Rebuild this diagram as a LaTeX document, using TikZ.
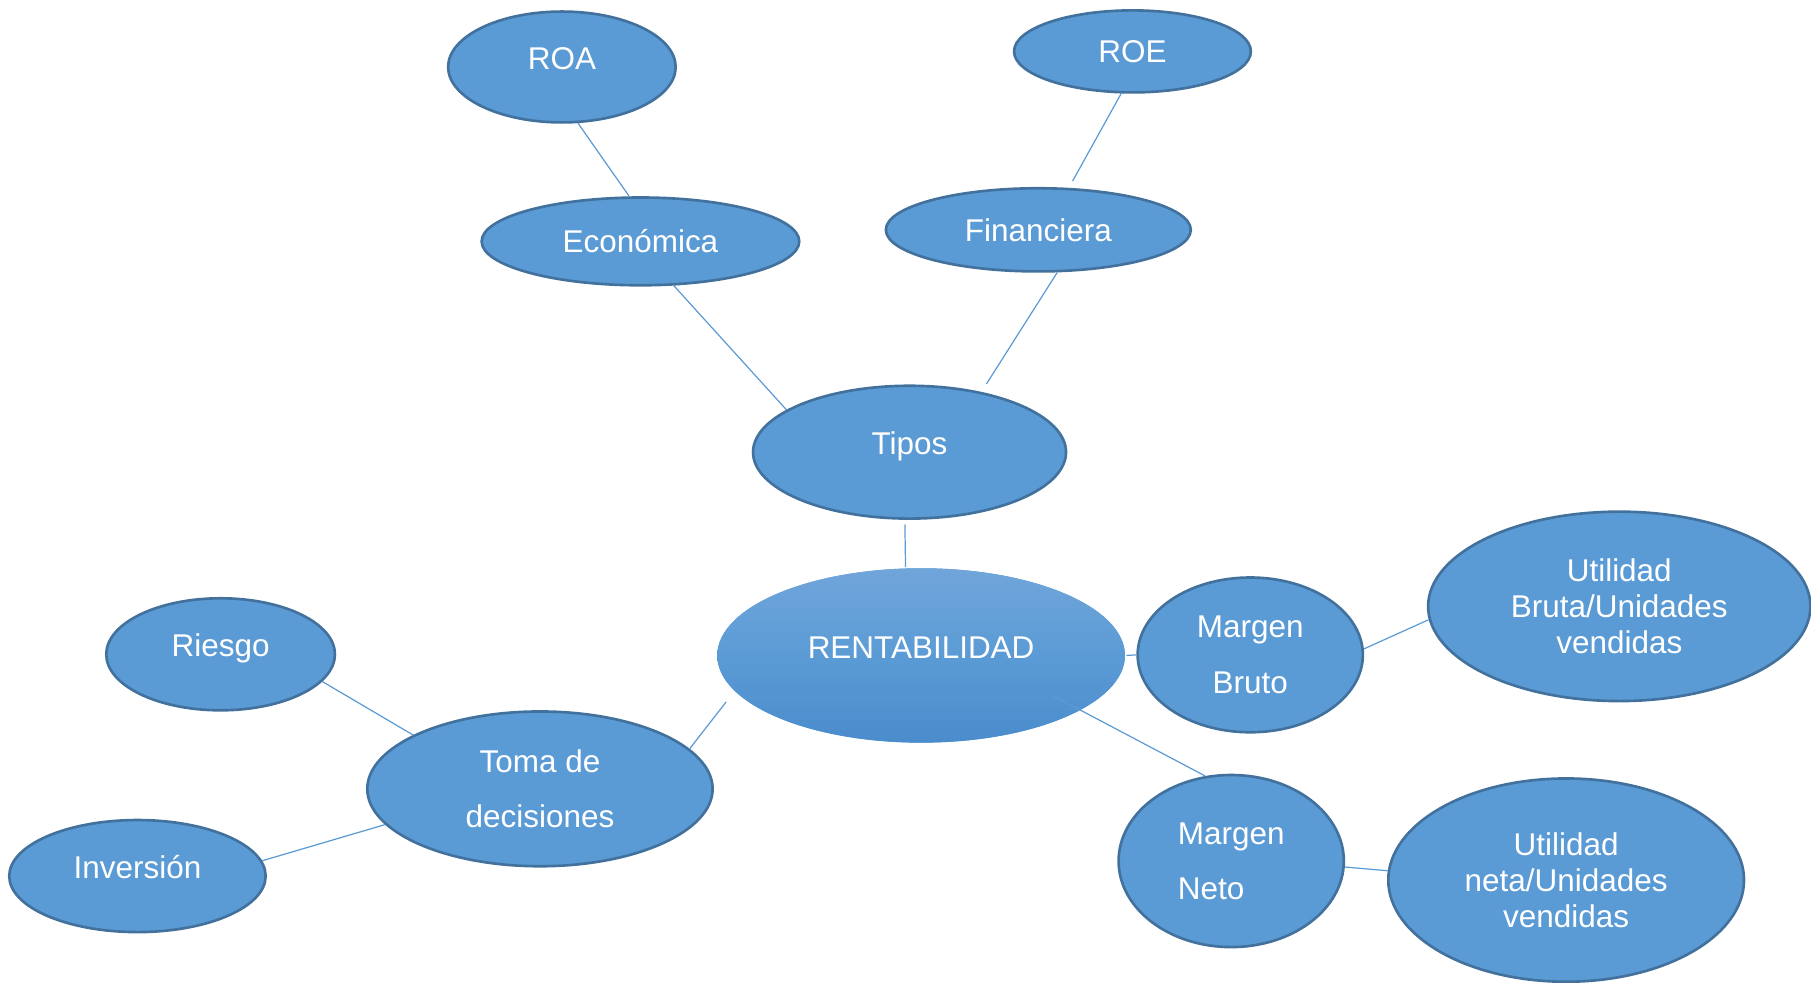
\documentclass[tikz,border=0pt]{standalone}
\usepackage{fontspec}
\setmainfont{Liberation Sans}
\usepackage{tikz}
\usepackage{xcolor}
\usetikzlibrary{shapes.geometric}
\definecolor{nodeblue}{HTML}{5B9BD5}
\definecolor{nodeedge}{HTML}{41719C}
\definecolor{rentop}{HTML}{70A5DA}
\definecolor{rentbot}{HTML}{4A8CCC}

\begin{document}
\begin{tikzpicture}[x=0.2mm,y=-0.2mm]
%\draw[help lines] (0,0) grid (1568,851);
\tikzset{
vertex/.style 	= {ellipse, draw=nodeedge, line width=1.3pt, fill=nodeblue,
		   text=white, inner sep=0pt, font=\fontsize{15.5}{18}\selectfont},
oneline/.style 	= {text height=3.9mm, text depth=0mm},
raised/.style 	= {text height=3.9mm, text depth=3mm},
twoline/.style 	= {font=\fontsize{15.5}{27.3}\selectfont},
threeline/.style = {align=center, font=\fontsize{15.5}{17.9}\selectfont},
link/.style 	= {draw=nodeblue, line width=0.6pt}
}
\useasboundingbox (0,0) rectangle (1568,851);

\node[vertex, raised, draw=none, top color=rentop, bottom color=rentbot,
      middle color=nodeblue, minimum width=70.6mm, minimum height=30.2mm]
      (rent) at (797.5,567.5) {RENTABILIDAD};

\node[vertex, raised, minimum width=54.2mm, minimum height=23mm] (tipos) at (787.5,391.5) {Tipos};
\node[vertex, oneline, minimum width=55mm, minimum height=15.2mm] (economica) at (554.5,209) {Económica};
\node[vertex, oneline, minimum width=52.8mm, minimum height=14.4mm] (financiera) at (899,199) {Financiera};
\node[vertex, raised, minimum width=39.4mm, minimum height=19.2mm] (roa) at (486.5,58) {ROA};
\node[vertex, oneline, minimum width=41mm, minimum height=14.2mm] (roe) at (980.5,44.5) {ROE};

\node[vertex, twoline, align=center, minimum width=59.8mm, minimum height=26.8mm] (toma) at (467.5,683) {Toma de\\decisiones};
\node[vertex, raised, minimum width=39.6mm, minimum height=19.4mm] (riesgo) at (191,566.5) {Riesgo};
\node[vertex, raised, minimum width=44.4mm, minimum height=19.4mm] (inversion) at (119,758.5) {Inversión};

\node[vertex, twoline, align=center, minimum width=39mm, minimum height=26.8mm] (m-bruto) at (1082.5,567) {Margen\\Bruto};
\node[vertex, threeline, minimum width=66.2mm, minimum height=32.8mm] (u-bruta) at (1402,525) {Utilidad\\Bruta/Unidades\\vendidas};
\node[vertex, twoline, align=left, minimum width=39mm, minimum height=29.8mm] (m-neto) at (1066,745.5) {Margen\\Neto};
\node[vertex, threeline, minimum width=61.6mm, minimum height=35.2mm] (u-neta) at (1356,762) {Utilidad\\neta/Unidades\\vendidas};

\path[link]
(roa.-74.6) edge (economica.104)
(roe.-105) edge[shorten >=1.34mm] (financiera.54.9)
(economica.-53.8) edge (tipos.161.7)
(financiera.-66.6) edge[shorten >=1.66mm] (tipos.40.1)
(tipos.-94.5) edge[shorten <=0.8mm] (rent.100.9)
(rent.191.5) edge[shorten <=2.2mm] (toma.15.5)
(toma.157.6) edge (riesgo.-15.6)
(toma.193) edge (inversion.7.5)
(rent.east) edge (m-bruto.west)
(m-bruto.3.5) edge (u-bruta.184.4)
(rent.-19.6) edge[shorten <=-5.7mm] (m-neto.107.2)
(m-neto.-3.8) edge (u-neta.177.4);
\end{tikzpicture}
\end{document}
